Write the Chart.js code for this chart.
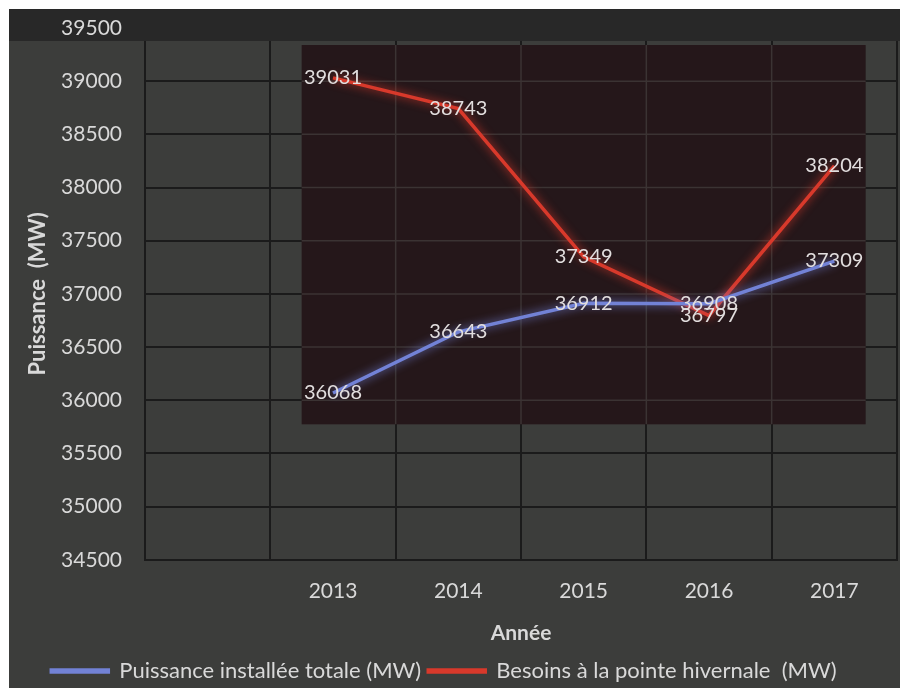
<!DOCTYPE html>
<html>
<head>
<meta charset="utf-8">
<script src="https://cdn.jsdelivr.net/npm/chart.js@4.4.1/dist/chart.umd.min.js"></script>
<style>
    html, body { margin: 0; background: #ffffff; }
    #wrap { position: absolute; left: 9px; top: 9px; width: 891px; height: 679px; background: #3c3d3b; }
</style>
</head>
<body>
<div id="wrap"><canvas id="power_chart" width="891" height="679"></canvas></div>
<script>
// first category is left empty, the years fill the next five columns
const years = ['', '2013', '2014', '2015', '2016', '2017'];
const installed_power = [null, 36068, 36643, 36912, 36908, 37309];
const winter_peak = [null, 39031, 38743, 37349, 36797, 38204];

const Y_MIN = 34500;
const Y_MAX = 39500;
const Y_STEP = 500;

// extent of the dark inner panel, in axis units
const PANEL_X_FROM = 0.75;
const PANEL_X_TO = 5.25;
const PANEL_Y_FROM = 35774;
const PANEL_Y_TO = 39340;
// lower edge of the dark strip across the top
const STRIP_Y = 39378;

const FONT = 'Lato, "Open Sans", sans-serif';
const TEXT_COLOR = '#d9d9d9';

// dark strip along the top and the inner plot panel with its own grid
const backdrop = {
    id: 'backdrop',
    beforeDatasetsDraw(chart) {
        const ctx = chart.ctx;
        const x = chart.scales.x;
        const y = chart.scales.y;
        ctx.save();
        ctx.fillStyle = '#282828';
        ctx.fillRect(0, 0, chart.width, y.getPixelForValue(STRIP_Y));

        const left = x.getPixelForValue(PANEL_X_FROM);
        const right = x.getPixelForValue(PANEL_X_TO);
        const top = y.getPixelForValue(PANEL_Y_TO);
        const bottom = y.getPixelForValue(PANEL_Y_FROM);
        ctx.fillStyle = '#25171a';
        ctx.fillRect(left, top, right - left, bottom - top);

        ctx.strokeStyle = '#3b3333';
        ctx.lineWidth = 1.5;
        ctx.beginPath();
        for (let v = Y_MIN; v <= Y_MAX; v += Y_STEP) {
            if (v > PANEL_Y_FROM && v < PANEL_Y_TO) {
                const py = y.getPixelForValue(v);
                ctx.moveTo(left, py);
                ctx.lineTo(right, py);
            }
        }
        for (let i = 0.5; i < years.length; i++) {
            if (i > PANEL_X_FROM && i < PANEL_X_TO) {
                const px = x.getPixelForValue(i);
                ctx.moveTo(px, top);
                ctx.lineTo(px, bottom);
            }
        }
        ctx.stroke();
        ctx.restore();
    }
};

// soft glow around each line
const glow = {
    id: 'glow',
    beforeDatasetDraw(chart, args) {
        const ctx = chart.ctx;
        ctx.save();
        ctx.shadowColor = args.meta.dataset.options.borderColor;
        ctx.shadowBlur = 10;
    },
    afterDatasetDraw(chart) {
        chart.ctx.restore();
    }
};

// value written on top of every point
const value_labels = {
    id: 'value_labels',
    afterDatasetsDraw(chart) {
        const ctx = chart.ctx;
        ctx.save();
        ctx.font = '20px ' + FONT;
        ctx.fillStyle = '#e2dede';
        ctx.textAlign = 'center';
        ctx.textBaseline = 'middle';
        chart.data.datasets.forEach(function (dataset, d) {
            const meta = chart.getDatasetMeta(d);
            dataset.data.forEach(function (value, i) {
                if (value === null) return;
                const pt = meta.data[i];
                ctx.fillText(String(value), pt.x, pt.y);
            });
        });
        ctx.restore();
    }
};

// the legend sits a little left of centre
const LEGEND_SHIFT = 9;
const legend_shift = {
    id: 'legend_shift',
    afterLayout(chart) {
        chart.legend.left -= LEGEND_SHIFT;
        chart.legend.right -= LEGEND_SHIFT;
    }
};

const context = document.getElementById('power_chart');
new Chart(context, {
    type: 'line',
    data: {
        labels: years,
        datasets: [{
            label: 'Puissance installée totale (MW)',
            data: installed_power,
            borderColor: '#7282d6',
            backgroundColor: '#7282d6',
            borderWidth: 3.5,
            pointRadius: 0,
            tension: 0
        }, {
            label: 'Besoins à la pointe hivernale  (MW)',
            data: winter_peak,
            borderColor: '#d8392b',
            backgroundColor: '#d8392b',
            borderWidth: 3.5,
            pointRadius: 0,
            tension: 0
        }]
    },
    options: {
        responsive: false,
        animation: false,
        layout: { padding: { top: 19, right: 3, left: 0, bottom: -4 } },
        scales: {
            x: {
                offset: true,
                grid: { offset: true, color: '#1b1b1b', lineWidth: 2, drawTicks: false },
                border: { color: '#1b1b1b', width: 2 },
                ticks: { color: TEXT_COLOR, font: { family: FONT, size: 21 }, padding: 19 },
                title: {
                    display: true,
                    text: 'Année',
                    color: TEXT_COLOR,
                    font: { family: FONT, size: 21, weight: 'bold', lineHeight: 1 },
                    padding: { top: 0, bottom: 9 }
                }
            },
            y: {
                min: Y_MIN,
                max: Y_MAX,
                afterFit(scale) {
                    scale.width = 136;
                    scale.paddingTop = 0;
                    scale.paddingBottom = 0;
                },
                grid: { color: '#1b1b1b', lineWidth: 2, drawTicks: false },
                border: { color: '#1b1b1b', width: 2 },
                ticks: {
                    stepSize: Y_STEP,
                    z: 1,
                    color: TEXT_COLOR,
                    font: { family: FONT, size: 21 },
                    padding: 23,
                    callback: function (value) { return String(value); }
                },
                title: {
                    display: true,
                    text: 'Puissance  (MW)',
                    color: TEXT_COLOR,
                    font: { family: FONT, size: 22, weight: 'bold' },
                    padding: { top: 16, bottom: 0 }
                }
            }
        },
        plugins: {
            legend: {
                position: 'bottom',
                labels: {
                    color: TEXT_COLOR,
                    font: { family: FONT, size: 22 },
                    boxWidth: 57,
                    boxHeight: 2,
                    padding: 7
                }
            },
            tooltip: { enabled: false }
        }
    },
    plugins: [backdrop, glow, value_labels, legend_shift]
});
</script>
</body>
</html>
